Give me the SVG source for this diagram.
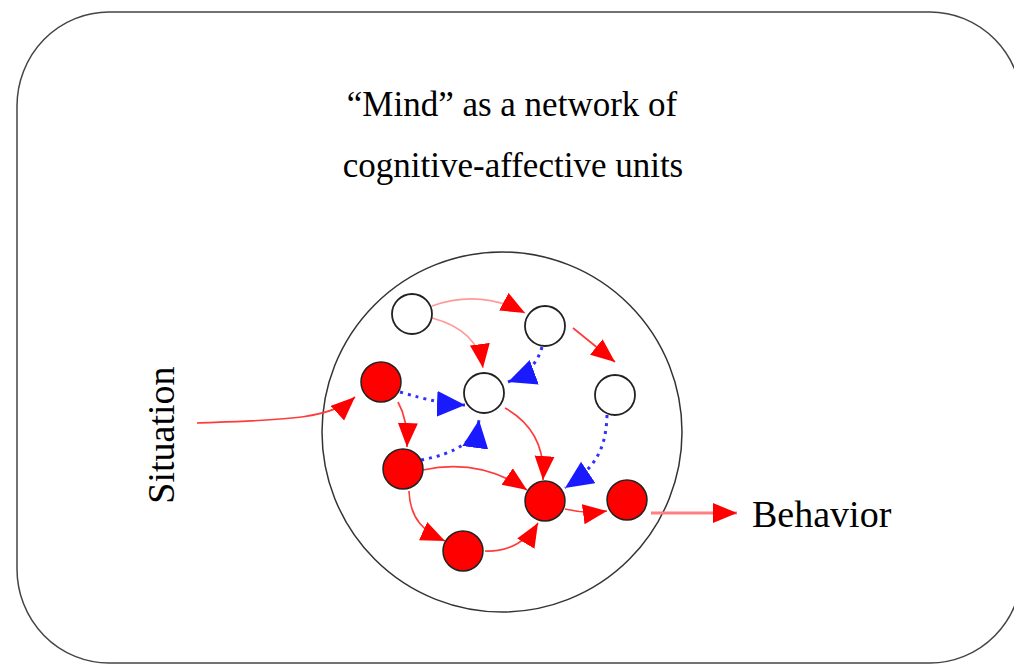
<svg xmlns="http://www.w3.org/2000/svg" width="1014" height="664" viewBox="0 0 1014 664">
<style>
.txt{font-family:"Liberation Serif","Times New Roman",serif;fill:#000}
.node-red{fill:#ff0000;stroke:#222;stroke-width:1.5}
.node-white{fill:#fff;stroke:#222;stroke-width:1.8}
.red{fill:none;stroke:#ff3c3c;stroke-width:1.7;marker-end:url(#ah-red)}
.pink{fill:none;stroke:#ff9a9a;stroke-width:1.7;marker-end:url(#ah-red)}
.blue{fill:none;stroke:#3030ff;stroke-width:3;stroke-dasharray:3 5;marker-end:url(#ah-blue)}
</style>
<defs>
<marker id="ah-red" markerUnits="userSpaceOnUse" markerWidth="26" markerHeight="22" refX="24" refY="10" orient="auto">
<path d="M0,0 L24,10 L0,20 z" fill="#ff0000"/>
</marker>
<marker id="ah-blue" markerUnits="userSpaceOnUse" markerWidth="32" markerHeight="28" refX="28" refY="13" orient="auto">
<path d="M0,0 L28,13 L0,26 z" fill="#1a1aff"/>
</marker>
</defs>
<rect x="0" y="0" width="1014" height="664" fill="#fff"/>
<rect id="frame" x="17" y="12" width="1005" height="651" rx="92" ry="94" fill="none" stroke="#444" stroke-width="1.5"/>
<g id="title">
<text class="txt" x="512" y="116" font-size="35" text-anchor="middle">“Mind” as a network of</text>
<text class="txt" x="513" y="177" font-size="35" text-anchor="middle">cognitive-affective units</text>
</g>
<circle id="mind" cx="502" cy="432" r="180" fill="none" stroke="#333" stroke-width="1.5"/>
<g id="labels">
<text class="txt" x="174" y="435" font-size="38" text-anchor="middle" transform="rotate(-90 174 435)">Situation</text>
<text class="txt" x="752" y="527" font-size="38">Behavior</text>
</g>
<g id="connectors">
<path class="red" d="M197,423 C280,420 330,420 355,397"/>
<path class="pink" d="M432,306 Q480,289 525,313"/>
<path class="pink" d="M432,318 Q478,330 483,368"/>
<path class="red" d="M573,328 L615,362"/>
<path class="blue" d="M542,347 Q535,372 508,382"/>
<path class="blue" d="M400,392 Q440,404 465,405"/>
<path class="blue" d="M421,460 Q475,450 479,420"/>
<path class="blue" d="M607,415 C606,450 595,468 565,488"/>
<path class="red" d="M398,402 Q408,420 407,447"/>
<path class="red" d="M505,408 C535,425 545,450 543,480"/>
<path class="red" d="M423,470 C470,460 505,475 527,490"/>
<path class="red" d="M409,491 C410,520 425,532 445,541"/>
<path class="red" d="M485,551 C510,552 528,540 538,523"/>
<path class="red" d="M565,509 Q585,514 607,511"/>
<path d="M651,513 L737,513" fill="none" stroke="#ff8080" stroke-width="3" marker-end="url(#ah-red)"/>
</g>
<g id="n-a"><circle class="node-white" cx="412" cy="314" r="20"/></g>
<g id="n-b"><circle class="node-white" cx="545" cy="326" r="20"/></g>
<g id="n-c"><circle class="node-white" cx="484" cy="393" r="20"/></g>
<g id="n-d"><circle class="node-white" cx="615" cy="395" r="20"/></g>
<g id="n-e"><circle class="node-red" cx="381" cy="382" r="20"/></g>
<g id="n-f"><circle class="node-red" cx="403" cy="469" r="20"/></g>
<g id="n-g"><circle class="node-red" cx="463" cy="551" r="20"/></g>
<g id="n-h"><circle class="node-red" cx="545" cy="501" r="20"/></g>
<g id="n-i"><circle class="node-red" cx="627" cy="500" r="20"/></g>
</svg>
